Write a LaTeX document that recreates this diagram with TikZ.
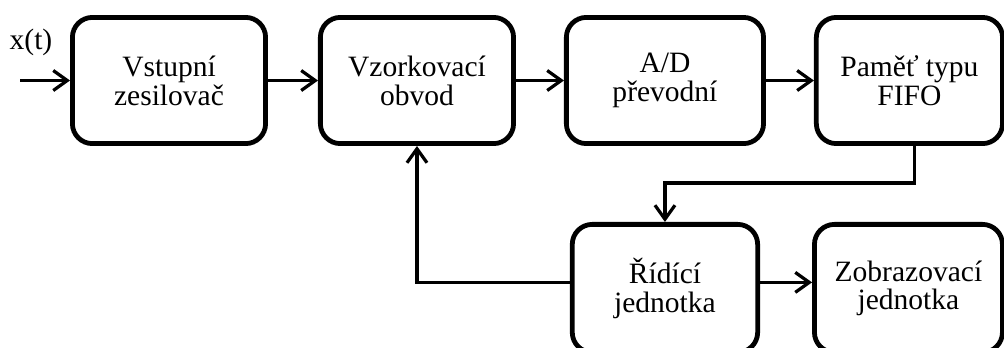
\documentclass[tikz,border=0pt]{standalone}
\usepackage{fontspec}
\setmainfont{Liberation Serif}
\usetikzlibrary{arrows.meta,positioning}

\begin{document}
\begin{tikzpicture}[
    node distance=1.9cm and 1.25cm,
    box/.style={draw, line width=3.4pt, rounded corners=0.5cm, minimum width=4.83cm, minimum height=3.155cm, inner sep=0pt, font=\fontsize{21}{20.5}\selectfont, align=center},
    arrow/.style={-{Straight Barb[length=3.5mm,width=5mm]}, line width=2.3pt}
]
    \useasboundingbox (0,0) rectangle (25.1,-8.675);

    \node[box] (zesil) at (4.225,-2.0125) {Vstupní\\zesilovač};
    \node[box, right=of zesil] (vzork) {Vzorkovací\\obvod};
    \node[box, minimum width=4.93cm, right=1.2cm of vzork] (prevod) {A/D\\převodní};
    \node[box, minimum width=4.655cm, right=1.2cm of prevod] (fifo) {Paměť typu\\FIFO};
    \node[box, minimum width=4.635cm, minimum height=3.2cm, below=of prevod] (rizeni) {Řídící\\jednotka};
    \node[box, minimum width=4.7cm, minimum height=3.2cm, right=1.3cm of rizeni] (zobraz) {Zobrazovací\\jednotka};

    \coordinate[left=of zesil] (vstup);
    \node[font=\fontsize{21}{20}\selectfont] (xt) at (0.775,-1.06) {x(t)};

    \draw[arrow] (vstup) -- (zesil);
    \draw[arrow] (zesil) -- (vzork);
    \draw[arrow] (vzork) -- (prevod);
    \draw[arrow] (prevod) -- (fifo);
    \draw[arrow] ([xshift=0.125cm]fifo.south) -- ++(0,-0.925) -| (rizeni.north);
    \draw[arrow] ([yshift=0.15cm]rizeni.east) -- ([yshift=0.15cm]zobraz.west);
    \draw[arrow] ([yshift=0.15cm]rizeni.west) -| (vzork.south);
\end{tikzpicture}
\end{document}
